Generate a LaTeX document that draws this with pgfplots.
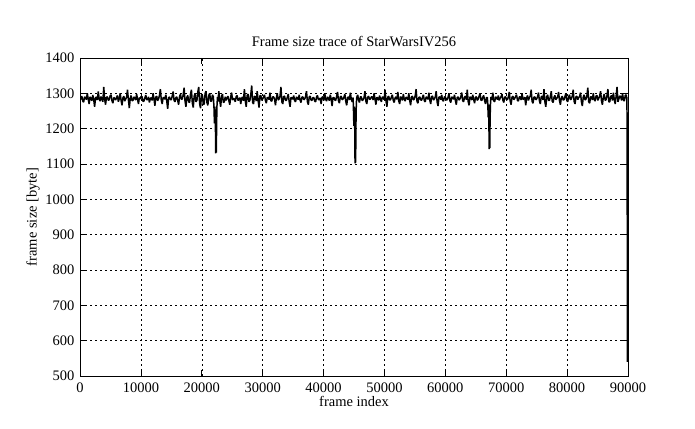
\documentclass[border=0pt]{standalone}
\usepackage{fontspec}
\setmainfont{Liberation Serif}
\usepackage{pgfplots}
\pgfplotsset{compat=1.18}
\begin{document}
\begin{tikzpicture}
\begin{axis}[
  scale only axis,
  width=548bp, height=318bp,
  xmin=0, xmax=90000, ymin=500, ymax=1400,
  xtick={0,10000,...,90000},
  ytick={500,600,...,1400},
  scaled ticks=false,
  /pgf/number format/1000 sep={},
  /pgf/number format/assume math mode=true,
  tick label style={font=\fontsize{14.5bp}{17bp}\selectfont},
  label style={font=\fontsize{14.5bp}{17bp}\selectfont},
  title style={font=\fontsize{14.5bp}{17bp}\selectfont, yshift=2bp},
  title={Frame size trace of StarWarsIV256},
  xlabel={frame index},
  ylabel={frame size [byte]},
  tick align=inside,
  major tick length=6bp,
  xtick pos=both, ytick pos=both,
  grid=major,
  grid style={black, line width=0.5pt, dash pattern=on 2bp off 3bp},
  axis line style={black, line width=0.7pt},
  every tick/.style={black, line width=0.7pt},
  xticklabel style={yshift=-3bp},
  yticklabel style={xshift=-2bp},
  xlabel style={yshift=3bp},
  ylabel style={yshift=-1bp},
]
\addplot[black, line width=1.5pt, line join=bevel] coordinates {
(0,1280) (150,1286) (300,1292) (450,1278) (600,1275) (750,1290) (900,1288) (1050,1282) (1200,1300) (1350,1284) (1500,1270) (1650,1290) (1800,1286) (1950,1279) (2100,1295) (2250,1283) (2400,1262) (2550,1287) (2700,1290) (2850,1281)
(3000,1305) (3150,1284) (3300,1278) (3450,1291) (3600,1284) (3750,1276) (3900,1318) (4050,1283) (4200,1268) (4350,1289) (4500,1290) (4650,1280) (4800,1282) (4950,1293) (5100,1296) (5250,1279) (5400,1272) (5550,1288) (5700,1286) (5850,1281)
(6000,1288) (6150,1294) (6300,1276) (6450,1285) (6600,1300) (6750,1280) (6900,1266) (7050,1287) (7200,1292) (7350,1278) (7500,1284) (7650,1289) (7800,1310) (7950,1282) (8100,1258) (8250,1286) (8400,1294) (8550,1279) (8700,1280) (8850,1290)
(9000,1286) (9150,1281) (9300,1298) (9450,1283) (9600,1270) (9750,1288) (9900,1284) (10050,1292) (10200,1290) (10350,1277) (10500,1278) (10650,1287) (10800,1295) (10950,1282) (11100,1282) (11250,1290) (11400,1274) (11550,1285) (11700,1288) (11850,1280)
(12000,1300) (12150,1284) (12300,1265) (12450,1289) (12600,1292) (12750,1279) (12900,1284) (13050,1294) (13200,1312) (13350,1281) (13500,1270) (13650,1288) (13800,1288) (13950,1283) (14100,1296) (14250,1278) (14400,1256) (14550,1287) (14700,1290) (14850,1282)
(15000,1282) (15150,1293) (15300,1305) (15450,1280) (15600,1276) (15750,1288) (15900,1290) (16050,1279) (16200,1268) (16350,1291) (16500,1298) (16650,1283) (16800,1284) (16950,1296) (17100,1316) (17250,1278) (17400,1262) (17550,1289) (17700,1294) (17850,1276)
(18000,1274) (18150,1298) (18300,1310) (18450,1272) (18600,1260) (18750,1292) (18900,1300) (19050,1276) (19200,1280) (19350,1304) (19500,1318) (19650,1270) (19800,1258) (19950,1296) (20100,1296) (20250,1268) (20400,1270) (20550,1300) (20700,1306) (20850,1274)
(21000,1266) (21150,1294) (21300,1300) (21450,1278) (21600,1278) (21750,1296) (21900,1290) (22000,1262) (22080,1215) (22160,1262) (22240,1212) (22290,1130) (22340,1214) (22390,1132) (22440,1218) (22500,1266) (22580,1290) (22650,1276) (22800,1306) (22950,1280) (23100,1262) (23250,1292) (23400,1298) (23550,1274) (23700,1276) (23850,1290)
(24000,1280) (24150,1287) (24300,1292) (24450,1279) (24600,1268) (24750,1290) (24900,1302) (25050,1281) (25200,1286) (25350,1284) (25500,1276) (25650,1291) (25800,1294) (25950,1280) (26100,1282) (26250,1288) (26400,1270) (26550,1286) (26700,1290) (26850,1279)
(27000,1312) (27150,1278) (27300,1262) (27450,1294) (27600,1298) (27750,1276) (27900,1280) (28050,1296) (28200,1322) (28350,1274) (28500,1270) (28650,1292) (28800,1290) (28950,1278) (29100,1306) (29250,1281) (29400,1260) (29550,1293) (29700,1294) (29850,1280)
(30000,1284) (30150,1290) (30300,1296) (30450,1280) (30600,1272) (30750,1288) (30900,1288) (31050,1282) (31200,1302) (31350,1279) (31500,1278) (31650,1290) (31800,1290) (31950,1284) (32100,1266) (32250,1287) (32400,1300) (32550,1281) (32700,1284) (32850,1292)
(33000,1318) (33150,1276) (33300,1270) (33450,1291) (33600,1292) (33750,1280) (33900,1280) (34050,1289) (34200,1298) (34350,1277) (34500,1262) (34650,1288) (34800,1288) (34950,1283) (35100,1294) (35250,1279) (35400,1276) (35550,1290) (35700,1286) (35850,1282)
(36000,1296) (36150,1280) (36300,1274) (36450,1289) (36600,1290) (36750,1282) (36900,1284) (37050,1291) (37200,1306) (37350,1276) (37500,1268) (37650,1290) (37800,1292) (37950,1281) (38100,1280) (38250,1288) (38400,1288) (38550,1278) (38700,1276) (38850,1290)
(39000,1294) (39150,1282) (39300,1282) (39450,1287) (39600,1270) (39750,1289) (39900,1290) (40050,1280) (40200,1300) (40350,1283) (40500,1278) (40650,1290) (40800,1286) (40950,1279) (41100,1296) (41250,1284) (41400,1264) (41550,1288) (41700,1288) (41850,1281)
(42000,1280) (42150,1292) (42300,1304) (42450,1279) (42600,1272) (42750,1290) (42900,1292) (43050,1282) (43200,1284) (43350,1289) (43500,1298) (43650,1277) (43800,1266) (43950,1288) (44100,1290) (44250,1281) (44400,1302) (44550,1284) (44700,1276) (44850,1288)
(44900,1262) (44980,1208) (45060,1262) (45120,1205) (45170,1102) (45220,1206) (45270,1104) (45320,1212) (45380,1270) (45450,1288) (45600,1296) (45750,1281) (45900,1274) (46050,1290) (46200,1290) (46350,1279) (46500,1282) (46650,1288) (46800,1306) (46950,1278) (47100,1270) (47250,1289) (47400,1292) (47550,1283) (47700,1284) (47850,1290)
(48000,1290) (48150,1281) (48300,1300) (48450,1284) (48600,1268) (48750,1289) (48900,1286) (49050,1280) (49200,1294) (49350,1283) (49500,1276) (49650,1290) (49800,1288) (49950,1282) (50100,1310) (50250,1279) (50400,1262) (50550,1289) (50700,1292) (50850,1281)
(51000,1282) (51150,1290) (51300,1296) (51450,1280) (51600,1274) (51750,1287) (51900,1290) (52050,1283) (52200,1304) (52350,1278) (52500,1270) (52650,1291) (52800,1286) (52950,1280) (53100,1298) (53250,1284) (53400,1278) (53550,1289) (53700,1288) (53850,1282)
(54000,1300) (54150,1279) (54300,1266) (54450,1290) (54600,1292) (54750,1281) (54900,1284) (55050,1293) (55200,1312) (55350,1277) (55500,1272) (55650,1288) (55800,1290) (55950,1282) (56100,1280) (56250,1289) (56400,1296) (56550,1279) (56700,1276) (56850,1290)
(57000,1288) (57150,1283) (57300,1302) (57450,1280) (57600,1270) (57750,1291) (57900,1292) (58050,1281) (58200,1284) (58350,1290) (58500,1306) (58650,1276) (58800,1264) (58950,1289) (59100,1290) (59250,1282) (59400,1296) (59550,1280) (59700,1278) (59850,1290)
(60000,1290) (60150,1281) (60300,1282) (60450,1289) (60600,1300) (60750,1279) (60900,1274) (61050,1290) (61200,1288) (61350,1283) (61500,1296) (61650,1280) (61800,1268) (61950,1288) (62100,1290) (62250,1281) (62400,1284) (62550,1291) (62700,1302) (62850,1279)
(63000,1276) (63150,1289) (63300,1292) (63450,1282) (63600,1310) (63750,1277) (63900,1266) (64050,1290) (64200,1288) (64350,1281) (64500,1296) (64650,1283) (64800,1272) (64950,1289) (65100,1290) (65250,1280) (65400,1284) (65550,1292) (65700,1300) (65850,1281)
(66000,1280) (66150,1289) (66300,1294) (66450,1279) (66600,1270) (66750,1288) (66900,1288) (66980,1268) (67040,1232) (67100,1268) (67150,1228) (67200,1142) (67250,1226) (67300,1145) (67350,1230) (67420,1272) (67500,1290) (67650,1281) (67800,1302) (67950,1279) (68100,1276) (68250,1290) (68400,1288) (68550,1282) (68700,1294) (68850,1280)
(69000,1286) (69150,1290) (69300,1298) (69450,1281) (69600,1274) (69750,1289) (69900,1290) (70050,1283) (70200,1282) (70350,1290) (70500,1304) (70650,1278) (70800,1268) (70950,1289) (71100,1292) (71250,1282) (71400,1286) (71550,1291) (71700,1296) (71850,1280)
(72000,1278) (72150,1290) (72300,1290) (72450,1281) (72600,1300) (72750,1283) (72900,1284) (73050,1289) (73200,1266) (73350,1287) (73500,1294) (73650,1280) (73800,1288) (73950,1292) (74100,1310) (74250,1277) (74400,1272) (74550,1289) (74700,1290) (74850,1282)
(75000,1284) (75150,1291) (75300,1302) (75450,1279) (75600,1270) (75750,1290) (75900,1292) (76050,1281) (76200,1312) (76350,1276) (76500,1262) (76650,1290) (76800,1296) (76950,1280) (77100,1280) (77250,1291) (77400,1306) (77550,1278) (77700,1274) (77850,1289)
(78000,1294) (78150,1282) (78300,1286) (78450,1290) (78600,1304) (78750,1279) (78900,1268) (79050,1288) (79200,1292) (79350,1281) (79500,1282) (79650,1291) (79800,1300) (79950,1280) (80100,1276) (80250,1290) (80400,1296) (80550,1282) (80700,1284) (80850,1292)
(81000,1310) (81150,1277) (81300,1270) (81450,1290) (81600,1292) (81750,1282) (81900,1288) (82050,1291) (82200,1302) (82350,1276) (82500,1264) (82650,1289) (82800,1296) (82950,1281) (83100,1284) (83250,1293) (83400,1316) (83550,1276) (83700,1272) (83850,1290)
(84000,1290) (84150,1281) (84300,1300) (84450,1283) (84600,1278) (84750,1292) (84900,1294) (85050,1280) (85200,1286) (85350,1293) (85500,1306) (85650,1278) (85800,1268) (85950,1290) (86100,1298) (86250,1280) (86400,1282) (86550,1294) (86700,1312) (86850,1276)
(87000,1276) (87150,1291) (87300,1294) (87450,1280) (87600,1302) (87750,1282) (87900,1270) (88050,1292) (88200,1318) (88350,1276) (88500,1284) (88650,1293) (88800,1290) (88950,1280) (89100,1300) (89250,1282) (89400,1278) (89550,1294) (89700,1296) (89780,1286)
(89830,1290) (89860,1050) (89880,930) (89900,740) (89915,540) (89930,740) (89945,545) (89960,735) (89975,540) (89990,740) (90000,545)
};
\end{axis}
\useasboundingbox ([shift={(-80bp,-53bp)}]current axis.south west) rectangle ([shift={(67bp,58bp)}]current axis.north east);
\end{tikzpicture}
\end{document}
